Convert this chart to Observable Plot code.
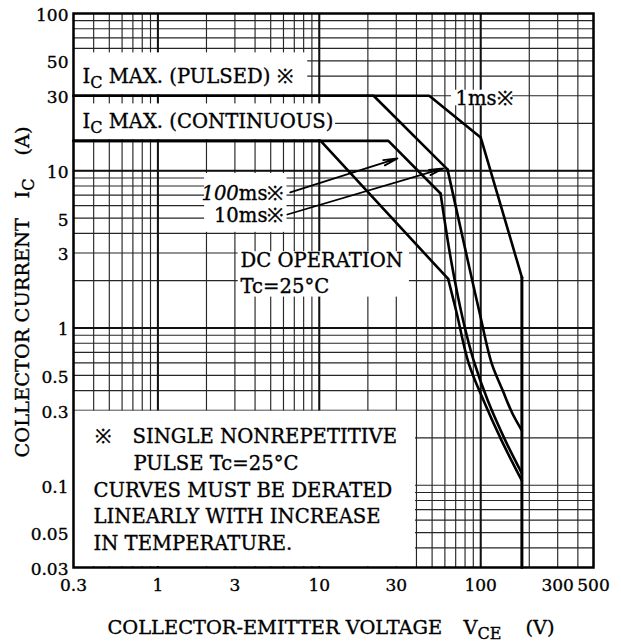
<!DOCTYPE html>
<html>
<head>
<meta charset="utf-8">
<script src="https://cdn.jsdelivr.net/npm/d3@7"></script>
<script src="https://cdn.jsdelivr.net/npm/@observablehq/plot@0.6"></script>
<style>
  html, body { margin: 0; padding: 0; background: #fff; }
  svg { display: block; }
</style>
</head>
<body>
<div id="chart"></div>
<script>
// ---- axis ticks & grid ----
const xTicks = [0.3, 1, 3, 10, 30, 100, 300, 500];
const yTicks = [100, 50, 30, 10, 5, 3, 1, 0.5, 0.3, 0.1, 0.05, 0.03];
const xGrid = [0.3, 0.4, 0.5, 0.6, 0.7, 0.8, 0.9, 1, 2, 3, 4, 5, 6, 7, 8, 9,
               10, 20, 30, 40, 50, 60, 70, 80, 90, 100, 200, 300, 400, 500];
const yGrid = [0.03, 0.04, 0.05, 0.06, 0.07, 0.08, 0.09, 0.1, 0.2, 0.3, 0.4, 0.5, 0.6, 0.7, 0.8, 0.9,
               1, 2, 3, 4, 5, 6, 7, 8, 9, 10, 20, 30, 40, 50, 60, 70, 80, 90, 100];
const xGridMajor = [1, 10, 100];
const yGridMajor = [1, 10];

// ---- SOA curves [VCE (V), IC (A)] ----
const soa1ms   = [[0.3, 30], [48, 30], [100, 16.3], [180, 2.1]];
const soa10ms  = [[0.3, 30], [21.7, 30], [62.3, 10.2], [83.7, 2.61], [98.3, 1.26], [116.7, 0.60],
                  [137, 0.40], [157, 0.287], [180, 0.223]];
const soa100ms = [[0.3, 15.5], [26.8, 15.5], [56.4, 7.17], [65.9, 2.61], [77.8, 1.12], [90.5, 0.62],
                  [110.5, 0.347], [142, 0.193], [180, 0.119]];
const soaDC    = [[0.3, 15.5], [10.2, 15.5], [62.9, 2.05], [70.8, 1.26], [84.1, 0.60],
                  [104, 0.347], [134.6, 0.193], [180, 0.107]];
const vceoLimit = [[180, 2.1], [180, 0.03]];
// index where the smooth (second-breakdown) tail starts
const tail1ms = 2, tail10ms = 2, tail100ms = 2, tailDC = 2;

// ---- white label boxes (data units) ----
const maskBoxes = [
  {v1: 0.3,  v2: 8.6,  i1: 30,   i2: 57},    // IC MAX (PULSED)
  {v1: 0.3,  v2: 12.8, i1: 15.5, i2: 27},    // IC MAX (CONTINUOUS)
  {v1: 65,   v2: 160,  i1: 25.5, i2: 33},    // 1ms
  {v1: 1.92, v2: 6.4,  i1: 4.0,  i2: 9.75},  // 100ms / 10ms
  {v1: 3.1,  v2: 36.7, i1: 1.55, i2: 3.1},   // DC OPERATION
  {v1: 0.3,  v2: 40,   i1: 0.03, i2: 0.3}    // note
];

// ---- labels (baseline positions, data units) ----
const labelsStart = [
  {v: 0.341, i: 36.4,   t: "I{C} MAX. (PULSED) ※"},
  {v: 0.341, i: 18.6,   t: "I{C} MAX. (CONTINUOUS)"},
  {v: 69.8,  i: 26.0,   t: "1ms※"},
  {v: 3.25,  i: 2.43,   t: "DC OPERATION"},
  {v: 3.25,  i: 1.66,   t: "Tc=25°C"},
  {v: 0.41,  i: 0.187,  t: "※"},
  {v: 0.696, i: 0.187,  t: "SINGLE NONREPETITIVE"},
  {v: 0.706, i: 0.1244, t: "PULSE Tc=25°C"},
  {v: 0.399, i: 0.0838, t: "CURVES MUST BE DERATED"},
  {v: 0.399, i: 0.0573, t: "LINEARLY WITH INCREASE"},
  {v: 0.399, i: 0.0386, t: "IN TEMPERATURE."}
];
const labelsEnd = [
  {v: 6.0, i: 6.47, t: "[100]ms※"},
  {v: 6.0, i: 4.69, t: "10ms※"}
];
const arrows = [
  {v1: 6.61, i1: 7.28, v2: 30.5, i2: 11.97},
  {v1: 6.34, i1: 5.27, v2: 58.6, i2: 10.34}
];

const FONT = "DejaVu Serif";
const TXT = {fontFamily: FONT, fill: "black", stroke: "black", strokeWidth: 0.35};
const lineOpts = {x: d => d[0], y: d => d[1], stroke: "black", strokeWidth: 2.6};
function curveMarks(data, tailStart) {
  return [
    Plot.line(data.slice(0, tailStart + 1), {...lineOpts, curve: "linear"}),
    Plot.line(data.slice(tailStart), {...lineOpts, curve: "catmull-rom"})
  ];
}

const plot = Plot.plot({
  width: 621,
  height: 642,
  marginLeft: 73,
  marginRight: 28,
  marginTop: 13,
  marginBottom: 75,
  x: {type: "log", domain: [0.3, 500], axis: null},
  y: {type: "log", domain: [0.03, 100], axis: null},
  style: {fontFamily: FONT, fontSize: "17px", background: "white", color: "black"},
  marks: [
    Plot.ruleX(xGrid, {stroke: "#262626", strokeWidth: 1.15}),
    Plot.ruleY(yGrid, {stroke: "#262626", strokeWidth: 1.15}),
    Plot.ruleX(xGridMajor, {stroke: "#111", strokeWidth: 2}),
    Plot.ruleY(yGridMajor, {stroke: "#111", strokeWidth: 2}),
    Plot.rect(maskBoxes, {x1: "v1", x2: "v2", y1: "i1", y2: "i2", fill: "white", inset: 1}),
    ...curveMarks(soa1ms, tail1ms),
    ...curveMarks(soa10ms, tail10ms),
    ...curveMarks(soa100ms, tail100ms),
    ...curveMarks(soaDC, tailDC),
    Plot.line(vceoLimit, {x: d => d[0], y: d => d[1], stroke: "black", strokeWidth: 3}),
    Plot.arrow(arrows, {x1: "v1", y1: "i1", x2: "v2", y2: "i2", stroke: "black",
                        strokeWidth: 1.8, headLength: 12, headAngle: 22}),
    Plot.text(labelsStart, {x: "v", y: "i", text: "t", textAnchor: "start", lineAnchor: "bottom",
                            fontSize: 19.6, ...TXT}),
    Plot.text(labelsEnd, {x: "v", y: "i", text: "t", textAnchor: "end", lineAnchor: "bottom",
                          fontSize: 19.6, ...TXT}),
    Plot.frame({stroke: "black", strokeWidth: 2.5}),
    // tick labels
    Plot.text(xTicks, {x: d => d, text: d => String(d), frameAnchor: "bottom", dy: 23,
                       textAnchor: "middle", lineAnchor: "bottom", fontSize: 17, ...TXT}),
    Plot.text(yTicks, {y: d => d, text: d => String(d), frameAnchor: "left", dx: -5, dy: 2,
                       textAnchor: "end", lineAnchor: "middle", fontSize: 17, ...TXT}),
    // x axis title
    Plot.text(["COLLECTOR-EMITTER VOLTAGE"], {frameAnchor: "bottom-left", dx: 34, dy: 66,
              textAnchor: "start", lineAnchor: "bottom", fontSize: 19.4, ...TXT}),
    Plot.text(["V{CE}"], {frameAnchor: "bottom-left", dx: 390, dy: 66,
              textAnchor: "start", lineAnchor: "bottom", fontSize: 19.4, ...TXT}),
    Plot.text(["(V)"], {frameAnchor: "bottom-left", dx: 452, dy: 66,
              textAnchor: "start", lineAnchor: "bottom", fontSize: 19.4, ...TXT}),
    // y axis title
    Plot.text(["COLLECTOR CURRENT"], {frameAnchor: "bottom-left", dx: -45, dy: -110, rotate: -90,
              textAnchor: "start", lineAnchor: "bottom", fontSize: 19.4, ...TXT}),
    Plot.text(["I{C}"], {frameAnchor: "bottom-left", dx: -45, dy: -369, rotate: -90,
              textAnchor: "start", lineAnchor: "bottom", fontSize: 19.4, ...TXT}),
    Plot.text(["(A)"], {frameAnchor: "bottom-left", dx: -45, dy: -412, rotate: -90,
              textAnchor: "start", lineAnchor: "bottom", fontSize: 19.4, ...TXT})
  ]
});

// subscripts {..} and italics [..]
d3.select(plot).selectAll("text").each(function () {
  const s = this.textContent;
  if (!/[{\[]/.test(s)) return;
  const parts = s.split(/(\{[^}]*\}|\[[^\]]*\])/).filter(p => p);
  const el = d3.select(this);
  el.text(null);
  let shifted = false;
  for (const p of parts) {
    if (p[0] === "{") {
      el.append("tspan").attr("dy", 5).attr("font-size", 16).text(p.slice(1, -1));
      shifted = true;
    } else {
      const t = el.append("tspan");
      if (shifted) { t.attr("dy", -5); shifted = false; }
      if (p[0] === "[") t.attr("font-style", "italic").text(p.slice(1, -1));
      else t.text(p);
    }
  }
});

document.getElementById("chart").appendChild(plot);
</script>
</body>
</html>
